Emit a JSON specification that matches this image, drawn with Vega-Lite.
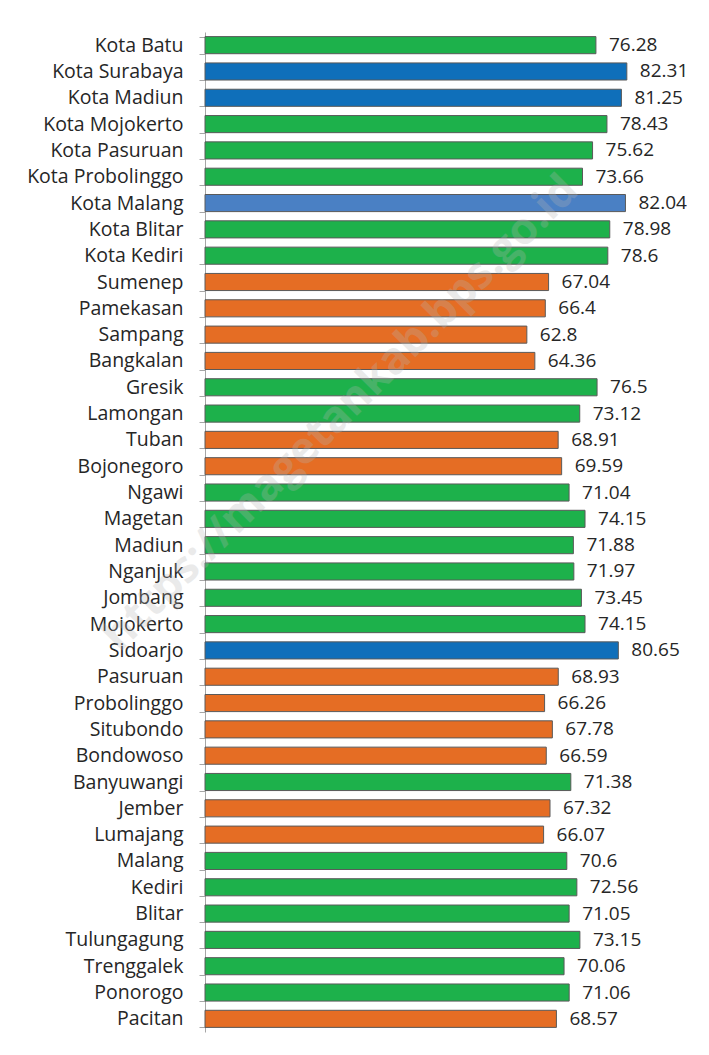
{
  "$schema": "https://vega.github.io/schema/vega-lite/v6.json",
  "width": 492,
  "height": 1000,
  "autosize": {"type": "none"},
  "padding": {"left": 205, "top": 32, "right": 12, "bottom": 23},
  "background": "white",
  "config": {"view": {"stroke": null}, "font": "Open Sans"},
  "data": {"values": [
    {"wilayah": "Kota Batu", "nilai": 76.28, "kelompok": "hijau"},
    {"wilayah": "Kota Surabaya", "nilai": 82.31, "kelompok": "biru"},
    {"wilayah": "Kota Madiun", "nilai": 81.25, "kelompok": "biru"},
    {"wilayah": "Kota Mojokerto", "nilai": 78.43, "kelompok": "hijau"},
    {"wilayah": "Kota Pasuruan", "nilai": 75.62, "kelompok": "hijau"},
    {"wilayah": "Kota Probolinggo", "nilai": 73.66, "kelompok": "hijau"},
    {"wilayah": "Kota Malang", "nilai": 82.04, "kelompok": "biru muda"},
    {"wilayah": "Kota Blitar", "nilai": 78.98, "kelompok": "hijau"},
    {"wilayah": "Kota Kediri", "nilai": 78.6, "kelompok": "hijau"},
    {"wilayah": "Sumenep", "nilai": 67.04, "kelompok": "oranye"},
    {"wilayah": "Pamekasan", "nilai": 66.4, "kelompok": "oranye"},
    {"wilayah": "Sampang", "nilai": 62.8, "kelompok": "oranye"},
    {"wilayah": "Bangkalan", "nilai": 64.36, "kelompok": "oranye"},
    {"wilayah": "Gresik", "nilai": 76.5, "kelompok": "hijau"},
    {"wilayah": "Lamongan", "nilai": 73.12, "kelompok": "hijau"},
    {"wilayah": "Tuban", "nilai": 68.91, "kelompok": "oranye"},
    {"wilayah": "Bojonegoro", "nilai": 69.59, "kelompok": "oranye"},
    {"wilayah": "Ngawi", "nilai": 71.04, "kelompok": "hijau"},
    {"wilayah": "Magetan", "nilai": 74.15, "kelompok": "hijau"},
    {"wilayah": "Madiun", "nilai": 71.88, "kelompok": "hijau"},
    {"wilayah": "Nganjuk", "nilai": 71.97, "kelompok": "hijau"},
    {"wilayah": "Jombang", "nilai": 73.45, "kelompok": "hijau"},
    {"wilayah": "Mojokerto", "nilai": 74.15, "kelompok": "hijau"},
    {"wilayah": "Sidoarjo", "nilai": 80.65, "kelompok": "biru"},
    {"wilayah": "Pasuruan", "nilai": 68.93, "kelompok": "oranye"},
    {"wilayah": "Probolinggo", "nilai": 66.26, "kelompok": "oranye"},
    {"wilayah": "Situbondo", "nilai": 67.78, "kelompok": "oranye"},
    {"wilayah": "Bondowoso", "nilai": 66.59, "kelompok": "oranye"},
    {"wilayah": "Banyuwangi", "nilai": 71.38, "kelompok": "hijau"},
    {"wilayah": "Jember", "nilai": 67.32, "kelompok": "oranye"},
    {"wilayah": "Lumajang", "nilai": 66.07, "kelompok": "oranye"},
    {"wilayah": "Malang", "nilai": 70.6, "kelompok": "hijau"},
    {"wilayah": "Kediri", "nilai": 72.56, "kelompok": "hijau"},
    {"wilayah": "Blitar", "nilai": 71.05, "kelompok": "hijau"},
    {"wilayah": "Tulungagung", "nilai": 73.15, "kelompok": "hijau"},
    {"wilayah": "Trenggalek", "nilai": 70.06, "kelompok": "hijau"},
    {"wilayah": "Ponorogo", "nilai": 71.06, "kelompok": "hijau"},
    {"wilayah": "Pacitan", "nilai": 68.57, "kelompok": "oranye"}
  ]},
  "encoding": {
    "y": {
      "field": "wilayah", "type": "nominal", "sort": null,
      "scale": {"paddingInner": 0.35, "paddingOuter": 0.175},
      "axis": {
        "title": null, "tickBand": "extent", "tickExtra": true, "tickSize": 6,
        "tickColor": "#a6a6a6", "domainColor": "#a6a6a6", "labelFontSize": 19.5,
        "labelColor": "#262626", "labelPadding": 16, "labelFont": "Open Sans"
      }
    },
    "x": {"field": "nilai", "type": "quantitative", "scale": {"domain": [0, 96]}, "axis": null}
  },
  "layer": [
    {
      "mark": {"type": "bar", "stroke": "#5a5a5a", "strokeWidth": 1},
      "encoding": {
        "color": {
          "field": "kelompok", "type": "nominal", "legend": null,
          "scale": {"domain": ["hijau", "biru", "biru muda", "oranye"], "range": ["#1db14b", "#0f6fba", "#4a80c4", "#e56d24"]}
        }
      }
    },
    {
      "mark": {"type": "text", "align": "left", "baseline": "middle", "dx": 13, "fontSize": 19, "color": "#262626", "font": "Open Sans"},
      "encoding": {"text": {"field": "nilai", "type": "nominal"}}
    },
    {
      "data": {"values": [{"wilayah": "Lamongan", "nilai": 26.5, "teks": "https://magetankab.bps.go.id"}]},
      "mark": {"type": "text", "align": "center", "baseline": "middle", "angle": -45, "fontSize": 44, "fontWeight": "bold", "font": "Open Sans", "color": "#b5b5b5", "opacity": 0.28},
      "encoding": {"text": {"field": "teks", "type": "nominal"}}
    }
  ]
}
